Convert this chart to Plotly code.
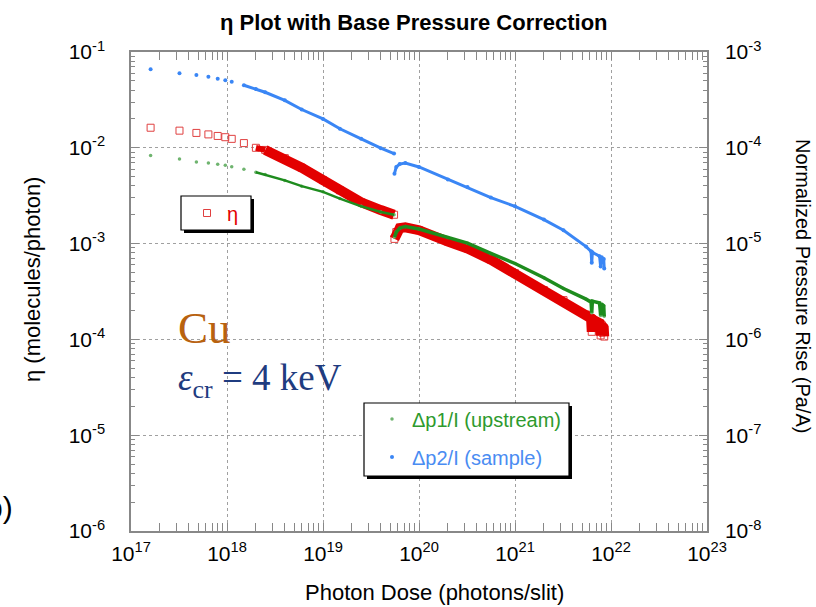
import plotly.graph_objects as go

# ---------------- data ----------------
# Segment 1 (before the break at ~5.6e19 photons)
dose_seg1 = [1.6e17, 3.2e17, 4.8e17, 6.4e17, 8.0e17, 9.6e17, 1.12e18, 1.5e18, 2.0e18,
             2.5e18, 4.0e18, 6.0e18, 1.0e19, 1.5e19, 2.5e19, 4.0e19, 5.5e19]
eta_seg1 = [1.62e-2, 1.51e-2, 1.43e-2, 1.38e-2, 1.33e-2, 1.29e-2, 1.24e-2, 1.12e-2, 1.0e-2,
            9.5e-3, 7.8e-3, 6.2e-3, 4.6e-3, 3.6e-3, 2.7e-3, 2.24e-3, 2.0e-3]
dp1_seg1 = [8.3e-5, 7.64e-5, 7.11e-5, 6.93e-5, 6.73e-5, 6.56e-5, 6.35e-5, 5.96e-5, 5.56e-5,
            5.25e-5, 4.57e-5, 3.98e-5, 3.47e-5, 2.95e-5, 2.45e-5, 2.14e-5, 2.0e-5]
dp2_seg1 = [6.61e-4, 6.0e-4, 5.75e-4, 5.52e-4, 5.27e-4, 5.06e-4, 4.9e-4, 4.5e-4, 4.1e-4,
            3.8e-4, 3.13e-4, 2.51e-4, 2.0e-4, 1.58e-4, 1.24e-4, 9.9e-5, 8.7e-5]

# Segment 2 (after the break)
dose_seg2 = [5.55e19, 5.8e19, 6.3e19, 7.2e19, 1.0e20, 2.0e20, 3.2e20, 5.6e20, 1.0e21, 2.0e21,
             3.2e21, 5.5e21, 6.2e21, 6.3e21, 6.4e21, 7.6e21, 7.8e21, 8.0e21, 8.4e21, 8.5e21]
eta_seg2 = [1.12e-3, 1.32e-3, 1.45e-3, 1.48e-3, 1.38e-3, 1.05e-3, 8.9e-4, 6.8e-4, 4.9e-4, 3.27e-4,
            2.57e-4, 1.82e-4, 1.66e-4, 1.20e-4, 1.62e-4, 1.48e-4, 1.10e-4, 1.41e-4, 1.32e-4, 1.07e-4]
dp1_seg2 = [1.17e-5, 1.32e-5, 1.45e-5, 1.51e-5, 1.42e-5, 1.16e-5, 1.01e-5, 7.9e-6, 6.2e-6, 4.4e-6,
            3.4e-6, 2.63e-6, 2.45e-6, 1.9e-6, 2.51e-6, 2.4e-6, 1.78e-6, 2.34e-6, 2.24e-6, 1.74e-6]
dp2_seg2 = [5.37e-5, 6.31e-5, 6.76e-5, 6.92e-5, 6.31e-5, 4.68e-5, 3.89e-5, 3.02e-5, 2.45e-5, 1.78e-5,
            1.38e-5, 9.3e-6, 8.3e-6, 6.3e-6, 8.1e-6, 7.4e-6, 5.75e-6, 7.2e-6, 6.9e-6, 5.5e-6]

x_exponents = [17, 18, 19, 20, 21, 22, 23]
yl_exponents = [-6, -5, -4, -3, -2, -1]
yr_exponents = [-8, -7, -6, -5, -4, -3]

series_names = ["\u03b7", "\u0394p1/I (upstream)", "\u0394p2/I (sample)"]

# ---------------- styling ----------------
RED = "#e30000"
GREEN = "#1e8c1e"
BLUE = "#3a86f5"
FONT = "Liberation Sans, Arial, Helvetica, sans-serif"
SERIF = "Liberation Serif, Times New Roman, serif"
AX = "#888888"

L, R, T, B = 131, 707, 52, 531
W, H = 816, 607


def px_x(p):
    return (p - L) / (R - L)


def px_y(p):
    return (B - p) / (B - T)


fig = go.Figure()

# marker traces (these carry the legends)
fig.add_trace(go.Scatter(x=dose_seg1 + dose_seg2, y=eta_seg1 + eta_seg2, mode="markers",
                         name=series_names[0], legend="legend",
                         marker=dict(symbol="square-open", size=7, color="#e04040",
                                     line=dict(width=1))))
fig.add_trace(go.Scatter(x=dose_seg1 + dose_seg2, y=dp1_seg1 + dp1_seg2, mode="markers",
                         name=series_names[1], legend="legend2", yaxis="y2",
                         marker=dict(symbol="circle", size=3.5, color="#6fb46f")))
fig.add_trace(go.Scatter(x=dose_seg1 + dose_seg2, y=dp2_seg1 + dp2_seg2, mode="markers",
                         name=series_names[2], legend="legend3", yaxis="y2",
                         marker=dict(symbol="circle", size=4, color=BLUE)))


def line_part(xs, ys, i0, i1, color, width, axis="y"):
    fig.add_trace(go.Scatter(x=xs[i0:i1], y=ys[i0:i1], mode="lines",
                             line=dict(color=color, width=width),
                             yaxis=axis, showlegend=False, hoverinfo="skip"))


# dense parts drawn as lines (on top of the markers, like the dense data cloud)
line_part(dose_seg1, dp2_seg1, 7, None, BLUE, 3, "y2")
line_part(dose_seg2, dp2_seg2, 0, None, BLUE, 3, "y2")
line_part(dose_seg1, dp1_seg1, 8, None, GREEN, 2.5, "y2")
line_part(dose_seg2, dp1_seg2, 0, None, GREEN, 3.5, "y2")
line_part(dose_seg1, eta_seg1, 8, 10, RED, 6)
line_part(dose_seg1, eta_seg1, 9, None, RED, 10)
line_part(dose_seg2, eta_seg2, 0, None, RED, 10)


def sup_labels(exps):
    return ["10<sup>%d</sup>" % e for e in exps]


tickfont = dict(family=FONT, size=21, color="black")
minor = dict(ticks="inside", ticklen=4, tickcolor=AX, dtick="D1", showgrid=False)

fig.update_layout(
    width=W, height=H,
    margin=dict(l=L, r=W - R, t=T, b=H - B),
    paper_bgcolor="white", plot_bgcolor="white",
    font=dict(family=FONT, color="black"),
    xaxis=dict(type="log", range=[17, 23],
               tickvals=[10.0 ** e for e in x_exponents], ticktext=sup_labels(x_exponents),
               ticks="inside", ticklen=8, tickwidth=1, tickcolor=AX,
               showline=True, linecolor=AX, linewidth=1.5, mirror="allticks",
               showgrid=True, gridcolor="#a0a0a0", griddash="dot", gridwidth=1,
               minor=minor, tickfont=tickfont, ticklabelstandoff=3, zeroline=False),
    yaxis=dict(type="log", range=[-6, -1],
               tickvals=[10.0 ** e for e in yl_exponents], ticktext=sup_labels(yl_exponents),
               ticks="inside", ticklen=8, tickwidth=1, tickcolor=AX,
               showline=True, linecolor=AX, linewidth=1.5, mirror=True,
               showgrid=True, gridcolor="#a0a0a0", griddash="dot", gridwidth=1,
               minor=minor, tickfont=tickfont, ticklabelstandoff=20, zeroline=False),
    yaxis2=dict(type="log", range=[-8, -3], overlaying="y", side="right",
                tickvals=[10.0 ** e for e in yr_exponents], ticktext=sup_labels(yr_exponents),
                ticks="inside", ticklen=8, tickwidth=1, tickcolor=AX,
                showline=True, linecolor=AX, linewidth=1.5,
                showgrid=False, minor=minor,
                tickfont=tickfont, ticklabelstandoff=12, zeroline=False),
    legend=dict(x=px_x(187), xanchor="left", y=px_y(213), yanchor="middle",
                bgcolor="rgba(0,0,0,0)", borderwidth=0,
                font=dict(family=FONT, size=20, color=RED)),
    legend2=dict(x=px_x(372), xanchor="left", y=px_y(419), yanchor="middle",
                 bgcolor="rgba(0,0,0,0)", borderwidth=0,
                 font=dict(family=FONT, size=20, color="#2e9a2e")),
    legend3=dict(x=px_x(372), xanchor="left", y=px_y(457), yanchor="middle",
                 bgcolor="rgba(0,0,0,0)", borderwidth=0,
                 font=dict(family=FONT, size=20, color="#4a8cf2")),
    showlegend=True,
)


def box(x0, y0, x1, y1):
    shp = []
    shp.append(dict(type="rect", xref="paper", yref="paper", layer="above",
                    x0=px_x(x0 + 3), x1=px_x(x1 + 3), y0=px_y(y1 + 3), y1=px_y(y0 + 3),
                    fillcolor="black", line=dict(width=0)))
    shp.append(dict(type="rect", xref="paper", yref="paper", layer="above",
                    x0=px_x(x0), x1=px_x(x1), y0=px_y(y1), y1=px_y(y0),
                    fillcolor="white", line=dict(color="black", width=1.2)))
    return shp


fig.update_layout(shapes=box(181, 196, 251, 230) + box(364, 403, 569, 476))

ann = []
ann.append(dict(text="<b>\u03b7 Plot with Base Pressure Correction</b>", x=px_x(414), y=px_y(22),
                xref="paper", yref="paper", showarrow=False, xanchor="center", yanchor="middle",
                font=dict(family=FONT, size=22, color="black")))
ann.append(dict(text="Photon Dose (photons/slit)", x=px_x(434), y=px_y(592),
                xref="paper", yref="paper", showarrow=False, xanchor="center", yanchor="middle",
                font=dict(family=FONT, size=22, color="black")))
ann.append(dict(text="\u03b7 (molecules/photon)", x=px_x(32), y=px_y(280), textangle=-90,
                xref="paper", yref="paper", showarrow=False, xanchor="center", yanchor="middle",
                font=dict(family=FONT, size=22, color="black")))
ann.append(dict(text="Normalized Pressure Rise (Pa/A)", x=px_x(803), y=px_y(286), textangle=90,
                xref="paper", yref="paper", showarrow=False, xanchor="center", yanchor="middle",
                font=dict(family=FONT, size=20, color="black")))
ann.append(dict(text="Cu", x=px_x(176), y=px_y(328), xref="paper", yref="paper",
                showarrow=False, xanchor="left", yanchor="middle",
                font=dict(family=SERIF, size=45, color="#b8620f")))
ann.append(dict(text="<i>\u03b5</i><sub>cr</sub> = 4 keV", x=px_x(176), y=px_y(380),
                xref="paper", yref="paper", showarrow=False, xanchor="left", yanchor="middle",
                font=dict(family=SERIF, size=37, color="#1f3c80")))
ann.append(dict(text="b)", x=px_x(15), y=px_y(507), xref="paper", yref="paper",
                showarrow=False, xanchor="right", yanchor="middle",
                font=dict(family=FONT, size=30, color="black")))
fig.update_layout(annotations=ann)

fig.write_html("out.html")
